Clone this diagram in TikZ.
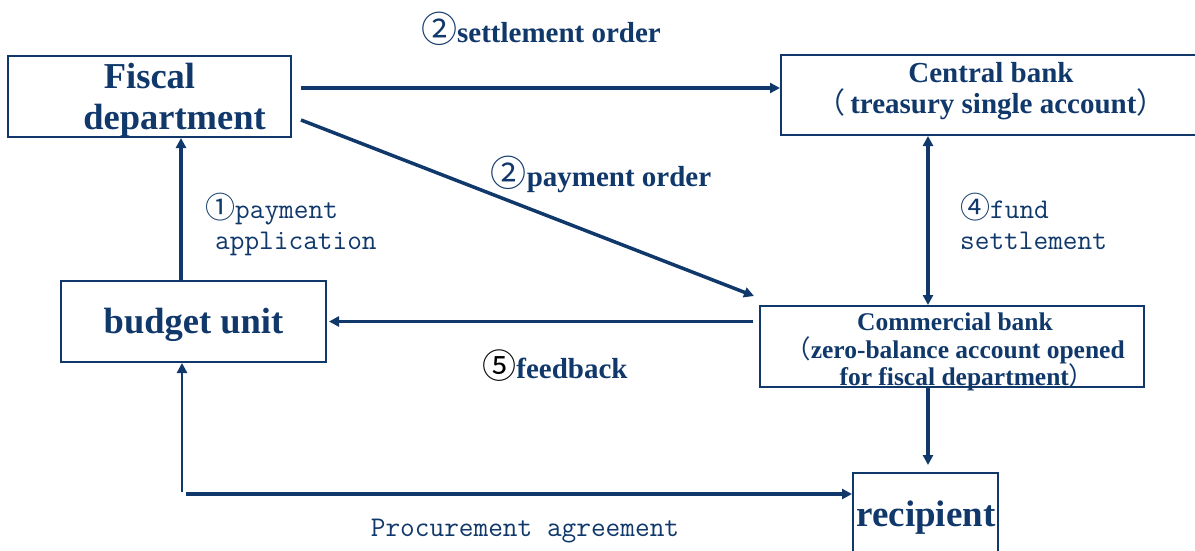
\documentclass[tikz,border=0pt]{standalone}
\usepackage{fontspec}
\setmainfont{Liberation Serif}
\newfontfamily\cjk{Noto Sans CJK SC}
\usetikzlibrary{arrows.meta,calc}
\definecolor{navy}{RGB}{16,56,106}
% full-width brackets and circled step numbers
\newcommand{\fwl}{{\cjk\mdseries （}}
\newcommand{\fwr}{{\cjk\mdseries ）}}
\newcommand{\circd}[2]{{\cjk\mdseries\fontsize{#1}{#1}\selectfont #2}}
\begin{document}
\begin{tikzpicture}[x=1pt,y=-1pt,
  box/.style={draw=navy, line width=2pt, inner sep=0pt, text=navy, align=center},
  boxtext/.style={text=navy, align=center, inner sep=0pt},
  tip/.style={-{Triangle[length=10pt,width=10pt]}},
  flow/.style={draw=navy, line width=3.5pt, tip},
  thinflow/.style={draw=navy, line width=2.5pt, tip},
  biflow/.style={draw=navy, line width=3.5pt, {Triangle[length=10pt,width=10pt]}-{Triangle[length=10pt,width=10pt]}},
  boldlab/.style={text=navy, font=\fontsize{29}{33}\selectfont\bfseries, inner sep=0pt},
  monolab/.style={text=navy, font=\fontsize{28.5}{31}\selectfont\ttfamily, inner sep=0pt, align=left}]
\useasboundingbox (0,0) rectangle (1195,551);

% boxes
\node[box, minimum width=283pt, minimum height=81pt] (fiscal) at (149.5,96.5) {};
\node[boxtext, font=\fontsize{36.5}{41}\selectfont\bfseries] (fiscaltext) at (149.5,100)
      {Fiscal\\\hspace*{50pt}department};
\node[box, minimum width=420pt, minimum height=80pt] (central) at (991,95) {};
\node[boxtext, font=\fontsize{29}{31}\selectfont\bfseries] (centraltext) at (991,91)
      {Central bank\\\fwl\,treasury single account\fwr};
\node[box, minimum width=384pt, minimum height=81pt] (commercial) at (952,346.5) {};
\node[boxtext, font=\fontsize{25.5}{27.5}\selectfont\bfseries] (commercialtext) at (955,352)
      {Commercial bank\\\fwl zero-balance account opened\\\hspace*{24pt}for fiscal department\fwr};
\node[box, minimum width=265pt, minimum height=81pt] (budget) at (193.5,321.5) {};
\node[boxtext, font=\fontsize{36.5}{41}\selectfont\bfseries] (budgettext) at (193.5,325) {budget unit};
\node[box, minimum width=145pt, minimum height=100pt] (recipient) at (925.5,523) {};
\node[boxtext, font=\fontsize{37}{41}\selectfont\bfseries] (recipienttext) at (926,518) {recipient};

% anchor points for the straight connectors
\coordinate (up1) at ($(budget.north)+(-12.5,0)$);
\coordinate (mid) at ($(commercial.north)+(-24,0)$);
\coordinate (corner) at (182,494);

% connectors
\draw[flow] ($(fiscal.east)+(9,-8.5)$) -- ($(central.west)+(0,-7)$);
\draw[flow] ($(fiscal.east)+(9,23.5)$) -- ($(commercial.north west)+(-5,-9)$);
\draw[flow] (up1) -- (up1 |- fiscal.south);
\draw[biflow] (mid |- central.south) -- (mid);
\draw[flow] ($(commercial.west |- budget.east)+(-6,0)$) -- ($(budget.east)+(2,0)$);
\draw[flow] ($(recipient.north |- commercial.south)+(2.5,0)$) -- ($(recipient.north)+(2.5,-7)$);
\draw[thinflow] ($(corner)+(0,-2)$) -- (corner |- budget.south);
\draw[flow] ($(corner)+(4,0)$) -- (corner -| recipient.west);

% labels
\node[boldlab] (l2a) at (541,29) {\circd{36}{②}settlement order};
\node[boldlab] (l2b) at (601,174) {\circd{36}{②}payment order};
\node[monolab, anchor=north west] (l1) at (205,193) {\circd{30}{①}payment\\\hspace*{10pt}application};
\node[monolab, anchor=north west] (l4) at (960,193) {\circd{30}{④}fund\\settlement};
\node[boldlab] (l5) at (555,366) {{\color{black}\circd{34}{⑤}}feedback};
\node[monolab] (lp) at (525,531) {Procurement agreement};
\end{tikzpicture}
\end{document}
